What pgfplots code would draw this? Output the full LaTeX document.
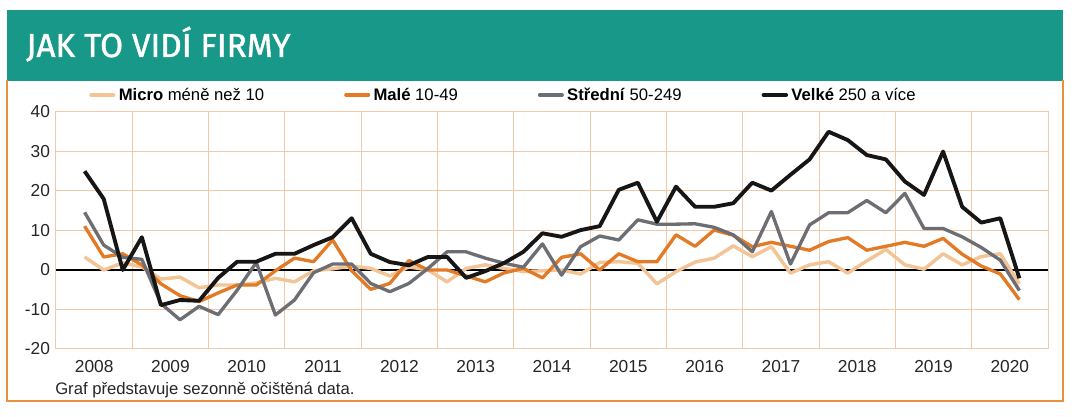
\documentclass[border=0pt]{standalone}
\usepackage{fontspec}
\setmainfont{Liberation Sans}
\newfontfamily\titlefont[FakeBold=1.2]{Fira Sans}
\usepackage{pgfplots}
\pgfplotsset{compat=1.18}
\usepackage{pgfplotstable}

\definecolor{teal}{RGB}{24,152,137}
\definecolor{frame}{RGB}{230,145,62}
\definecolor{gridc}{RGB}{242,200,168}
\definecolor{micro}{RGB}{242,196,150}
\definecolor{male}{RGB}{226,122,38}
\definecolor{stredni}{RGB}{108,110,116}
\definecolor{velke}{RGB}{22,22,22}

% quarterly values, 2008 Q2 - 2020 Q3 (x = quarter index + 0.5)
\pgfplotstableread{
q micro male stredni velke
1.5 3.3 11.1 14.6 25.0
2.5 0.0 3.3 6.3 18.0
3.5 1.8 4.1 3.2 0.0
4.5 0.8 1.3 2.7 8.3
5.5 -2.3 -3.5 -8.5 -8.9
6.5 -1.8 -6.5 -12.6 -7.6
7.5 -4.5 -8.0 -9.2 -7.8
8.5 -3.8 -5.8 -11.3 -2.0
9.5 -3.8 -3.8 -5.1 2.1
10.5 -3.3 -3.8 1.9 2.1
11.5 -2.1 -0.2 -11.4 4.1
12.5 -3.0 3.0 -7.6 4.1
13.5 -0.2 2.1 -0.7 6.3
14.5 0.3 7.6 1.5 8.3
15.5 1.0 -0.2 1.5 13.1
16.5 0.4 -4.9 -3.4 4.1
17.5 -1.5 -3.4 -5.5 2.0
18.5 0.8 2.4 -3.4 1.2
19.5 0.0 0.0 0.4 3.3
20.5 -3.0 0.0 4.6 3.3
21.5 0.4 -1.5 4.6 -2.0
22.5 1.3 -3.0 3.0 -0.3
23.5 0.4 -0.7 1.7 1.8
24.5 -0.4 0.4 0.7 4.6
25.5 -0.2 -2.0 6.6 9.3
26.5 0.0 3.2 -1.3 8.4
27.5 -1.0 4.1 5.9 10.1
28.5 1.9 0.0 8.6 11.1
29.5 2.1 4.1 7.6 20.3
30.5 1.7 2.1 12.7 22.1
31.5 -3.5 2.1 11.6 12.2
32.5 -0.4 8.9 11.6 21.1
33.5 2.0 6.0 11.7 16.0
34.5 3.0 10.1 10.8 16.0
35.5 6.1 8.8 8.9 16.9
36.5 3.4 5.9 4.6 22.1
37.5 5.9 7.0 14.8 20.1
38.5 -0.8 6.0 1.5 24.1
39.5 1.3 5.0 11.4 28.0
40.5 2.1 7.2 14.5 35.0
41.5 -0.8 8.2 14.5 32.9
42.5 2.3 5.0 17.6 29.1
43.5 5.2 6.0 14.5 28.0
44.5 1.3 7.0 19.4 22.4
45.5 0.2 6.0 10.5 19.0
46.5 4.1 8.0 10.5 30.0
47.5 1.3 4.0 8.4 16.0
48.5 3.4 1.0 5.7 12.0
49.5 4.1 -1.0 2.5 13.1
50.5 -3.5 -7.5 -5.2 -2.1
}\firmy

\begin{document}
\begin{tikzpicture}[x=0.75pt,y=0.75pt]
  \path[use as bounding box] (0,0) rectangle (1074,417);
  % header and frame
  \fill[teal] (7,336) rectangle (1063,407);
  \draw[frame, line width=1.9pt] (7,337) -- (7,16) -- (1063,16) -- (1063,337);
  \node[anchor=base west, inner sep=0pt, text=white,
        font=\titlefont\fontsize{25}{30}\selectfont] at (26,360) {JAK TO VIDÍ FIRMY};

  \begin{axis}[
    at={(42pt,51pt)}, anchor=south west,
    scale only axis, width=744pt, height=177.75pt,
    xmin=0, xmax=52, ymin=-20, ymax=40,
    xtick={2,6,...,50},
    xticklabels={2008,2009,2010,2011,2012,2013,2014,2015,2016,2017,2018,2019,2020},
    minor xtick={4,8,...,48},
    ytick={-20,-10,...,40},
    yticklabels={-20,-10,0,10,20,30,40},
    xminorgrids=true, ymajorgrids=true,
    major tick length=0pt, minor tick length=0pt,
    grid style={gridc, line width=0.75pt},
    minor grid style={gridc, line width=0.75pt},
    axis line style={gridc, line width=0.75pt},
    extra y ticks={0}, extra y tick labels={},
    extra y tick style={ymajorgrids=true, major grid style={black, line width=1.1pt}},
    ticklabel style={font=\fontsize{13}{15}\selectfont, text=black!85},
    xticklabel style={yshift=-5pt},
    yticklabel style={xshift=-1pt},
    every axis plot/.append style={line join=round, no markers},
    legend columns=4,
    legend image code/.code={\draw[#1, line cap=round] (0pt,0pt) -- (17pt,0pt);},
    legend style={draw=none, fill=none, inner sep=0pt,
      at={(axis description cs:0.0333,1.072)}, anchor=west,
      font=\fontsize{12.5}{14}\selectfont,
      /tikz/every even column/.append style={column sep=57.5pt},
      nodes={inner sep=2.5pt}},
  ]
    \addplot[micro, line width=2.6pt] table[x=q, y=micro] {\firmy};
    \addlegendentry{\textbf{Micro} méně než 10}
    \addplot[male, line width=2.5pt] table[x=q, y=male] {\firmy};
    \addlegendentry{\textbf{Malé} 10-49}
    \addplot[stredni, line width=2.5pt] table[x=q, y=stredni] {\firmy};
    \addlegendentry{\textbf{Střední} 50-249}
    \addplot[velke, line width=2.9pt] table[x=q, y=velke] {\firmy};
    \addlegendentry{\textbf{Velké} 250 a více}
  \end{axis}

  \node[anchor=base west, inner sep=0pt, font=\fontsize{12.5}{14}\selectfont, text=black!85]
    at (55,22) {Graf představuje sezonně očištěná data.};
\end{tikzpicture}
\end{document}
